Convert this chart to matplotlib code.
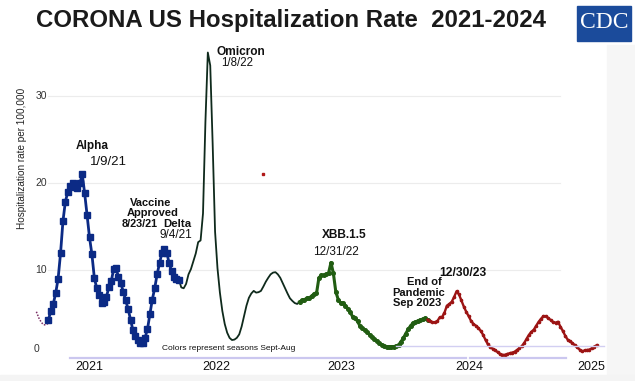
import matplotlib
matplotlib.use('Agg')
import matplotlib.pyplot as plt
import matplotlib.dates as mdates
import pandas as pd

plt.rcParams['font.family'] = ['Liberation Sans', 'DejaVu Sans']

# weekly hospitalization rate per 100,000, split by season colour
pre_start = '2020-08-29'
pre_rate = [5.2, 4.5, 4.0, 3.7, 3.7, 3.9]

s2021_start = '2020-10-03'
s2021_rate = [4.3, 5.3, 6.1, 7.35, 9.0, 11.9, 15.6, 17.85, 18.95, 19.7,
              20.0, 19.5, 19.45, 19.95, 21.0, 18.8, 16.3, 13.75, 11.8, 9.1,
              7.9, 7.15, 6.25, 6.35, 6.9, 8.0, 8.7, 10.1, 10.2, 9.2,
              8.45, 7.5, 6.5, 5.5, 4.3, 3.05, 2.4, 1.9, 1.65, 1.6,
              2.2, 3.2, 4.9, 6.6, 7.9, 9.5, 10.8, 11.95, 12.45, 12.0,
              10.75, 9.9, 9.25, 8.93, 8.9]

s2022_start = '2021-10-16'
s2022_rate = [8.9, 8.0, 7.9, 8.4, 9.5, 10.1, 11.0, 11.9, 13.2, 13.4,
              16.5, 27.0, 35.0, 33.5, 24.5, 14.4, 10.2, 7.4, 5.3, 3.8,
              2.8, 2.2, 1.95, 2.0, 2.2, 2.6, 3.5, 4.7, 5.9, 6.8,
              7.3, 7.6, 7.4, 7.45, 7.6, 8.1, 8.65, 9.1, 9.5, 9.7,
              9.75, 9.5, 9.1, 8.5, 7.9, 7.3, 6.75, 6.45, 6.2, 6.1,
              6.35]

s2023_start = '2022-10-01'
s2023_rate = [6.35, 6.5, 6.6, 6.75, 6.8, 7.0, 7.25, 7.3, 9.1, 9.4,
              9.4, 9.5, 9.65, 10.85, 9.6, 7.5, 6.6, 6.2, 6.15, 5.9,
              5.55, 5.15, 4.6, 4.45, 4.1, 3.56, 3.3, 3.1, 2.85, 2.55,
              2.3, 2.05, 1.85, 1.6, 1.4, 1.25, 1.2, 1.2, 1.2, 1.2,
              1.25, 1.4, 1.75, 2.2, 2.7, 3.2, 3.6, 3.9, 4.0, 4.15,
              4.25, 4.35, 4.45, 4.3]

s2024_start = '2023-10-07'
s2024_rate = [4.3, 4.1, 4.0, 4.0, 4.1, 4.55, 4.6, 5.1, 5.9, 6.1,
              6.35, 6.9, 7.55, 7.2, 6.5, 5.8, 5.2, 4.7, 4.15, 3.8,
              3.6, 3.35, 3.0, 2.55, 1.95, 1.45, 1.1, 0.95, 0.8, 0.55,
              0.35, 0.25, 0.25, 0.35, 0.43, 0.5, 0.6, 0.8, 1.0, 1.25,
              1.6, 2.1, 2.55, 2.9, 3.15, 3.6, 4.05, 4.4, 4.7, 4.7,
              4.45, 4.25, 4.0, 3.95, 4.05, 3.5, 3.0, 2.45, 2.0, 1.8,
              1.6, 1.35, 1.1, 0.85, 0.65, 0.75, 0.8, 0.85, 1.0, 1.2,
              1.35]

stray_date = ['2022-06-16']
stray_rate = [21.0]

y_ticks = [0, 10, 20, 30]
year_labels = ['2021', '2022', '2023', '2024', '2025']


def weekly(start, values):
    return pd.date_range(start, periods=len(values), freq='7D')


W, H = 635, 381
fig = plt.figure(figsize=(W / 100, H / 100), dpi=100)
ax = fig.add_axes([0, 0, 1, 1])
ax.axis('off')
ax.set_zorder(1)

# pixel placement of the original collage
jan21 = mdates.date2num(pd.Timestamp('2021-01-01'))
day_px = 126 / 365.25
ax.set_xlim(jan21 - 79.5 / day_px, jan21 + (W - 79.5) / day_px)
ax.set_ylim(-(H - 357) / 8.7, 357 / 8.7)


def fx(px):
    return px / W


def fy(py):
    return 1 - py / H


# faint background patches
fig.patches.append(plt.Rectangle((fx(607), 0), fx(28), fy(45), transform=fig.transFigure,
                                 color='#f6f6f6', zorder=0))
fig.patches.append(plt.Rectangle((0, 0), 1, fy(375), transform=fig.transFigure,
                                 color='#f4f4f4', zorder=0))

# gridlines
for v in y_ticks[1:]:
    ax.axhline(v, xmin=fx(48), xmax=fx(560), color='#ececec', lw=0.8, zorder=1)

# lavender base lines
ax.plot([fx(70), fx(466)], [fy(358)] * 2, transform=fig.transFigure, color='#cbc7ef', lw=1.6, zorder=5)
ax.plot([fx(470), fx(566)], [fy(358)] * 2, transform=fig.transFigure, color='#cbc7ef', lw=1.6, zorder=5)
ax.plot([fx(396), fx(604)], [fy(346)] * 2, transform=fig.transFigure, color='#d2cff2', lw=1.0, zorder=5)

# seasons
pre_x = list(weekly(pre_start, pre_rate)) + [pd.Timestamp(s2021_start)]
ax.plot(pre_x, pre_rate + [s2021_rate[0]], color='#7a2d63', lw=1.1, ls=(0, (1, 1)), zorder=3)
ax.plot(weekly(s2021_start, s2021_rate), s2021_rate, color='#0b2a85', lw=2.0,
        marker='s', ms=3.7, zorder=4)
ax.plot(weekly(s2022_start, s2022_rate), s2022_rate, color='#0f2a1c', lw=1.3, zorder=3)
ax.plot(weekly(s2023_start, s2023_rate), s2023_rate, color='#215d12', lw=2.2,
        marker='o', ms=2.6, zorder=3)
ax.plot(weekly(s2024_start, s2024_rate), s2024_rate, color='#9c1414', lw=1.7,
        marker='o', ms=1.6, zorder=3)
ax.plot(pd.to_datetime(stray_date), stray_rate, 's', color='#b01818', ms=1.5, zorder=3)

# title and logo
fig.text(fx(36), fy(20), 'CORONA US Hospitalization Rate  2021-2024', fontsize=17.3,
         fontweight='bold', color='#1a1a1a', ha='left', va='center')
fig.patches.append(plt.Rectangle((fx(577), fy(41)), fx(54), fy(6) - fy(41), transform=fig.transFigure,
                                 color='#1b4b9b', zorder=2))
fig.text(fx(604), fy(23), 'CDC', family=['Liberation Serif', 'DejaVu Serif'], fontsize=17,
         color='white', ha='center', va='center', zorder=3)

# y axis text
fig.text(fx(22), fy(158), 'Hospitalization rate per 100,000', rotation=90, fontsize=7.2,
         color='#222222', ha='center', va='center')
for v in y_ticks:
    py = 357 - 8.7 * v if v else 349
    fig.text(fx(47) if v else fx(36), fy(py), str(v), fontsize=7.5, color='#333333',
             ha='right' if v else 'center', va='center')

# x labels
for lab, px in zip(year_labels, [89, 216, 341, 469, 591]):
    fig.text(fx(px), fy(367), lab, fontsize=9, color='#111111', ha='center', va='center')

# annotations
notes = [
    ('Alpha', 92, 146, 'bold', 8.5),
    ('1/9/21', 108, 162, 'normal', 9.5),
    ('Vaccine', 151, 203, 'bold', 8),
    ('Approved', 153, 213, 'bold', 8),
    ('8/23/21', 140, 224, 'bold', 7.8),
    ('Delta', 177, 224, 'bold', 8.2),
    ('9/4/21', 176, 235, 'normal', 8.5),
    ('Omicron', 241, 52, 'bold', 8.6),
    ('1/8/22', 237, 63, 'normal', 8.3),
    ('XBB.1.5', 344, 235, 'bold', 8.6),
    ('12/31/22', 336, 252, 'normal', 8.5),
    ('End of', 424, 282, 'bold', 8),
    ('Pandemic', 419, 293, 'bold', 8),
    ('Sep 2023', 417, 303, 'bold', 8),
    ('12/30/23', 463, 273, 'bold', 8.7),
    ('Colors represent seasons Sept-Aug', 229, 348, 'normal', 6),
]
for txt, px, py, w, s in notes:
    fig.text(fx(px), fy(py), txt, fontsize=s, fontweight=w, color='#111111',
             ha='center', va='center', zorder=6)

fig.savefig('out.png', dpi=100)
